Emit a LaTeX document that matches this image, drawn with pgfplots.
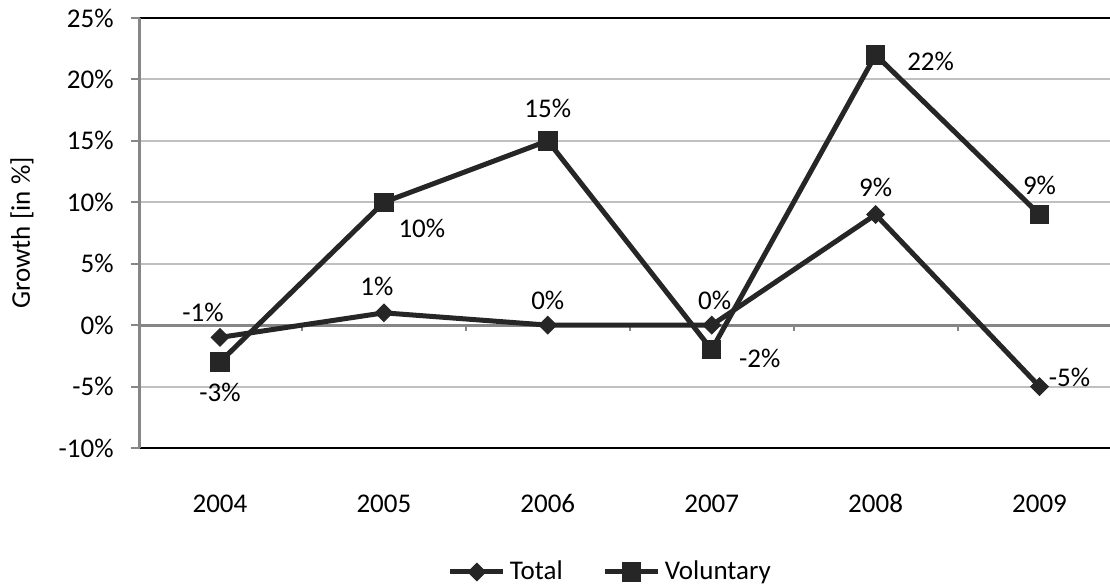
\documentclass[border=0pt]{standalone}
\usepackage{pgfplots}
\pgfplotsset{compat=1.18}
\usepackage{pgfplotstable}
\usepackage{fontspec}
\setmainfont{Carlito}
\definecolor{lineC}{HTML}{262626}
\definecolor{gridC}{HTML}{C0C0C0}
\definecolor{axisC}{HTML}{868686}

% x  y  label offsets (dx, dy in pt)
\pgfplotstableread{
x y dx dy
0 -1 -8.5 12.5
1 1 -3.5 13
2 0 0 12.5
3 0 1.5 12.5
4 9 0 13.5
5 -5 15 4.5
}\totaldata
\pgfplotstableread{
x y dx dy
0 -3 0 -15
1 10 19 -13
2 15 0 16
3 -2 24 -4.5
4 22 27.5 -3.5
5 9 0 14.5
}\voluntarydata

\begin{document}
\fontsize{13.5}{15.5}\selectfont
\begin{tikzpicture}
\begin{axis}[
    name=ax,
    scale only axis,
    width=485pt,
    height=215pt,
    xmin=-0.488, xmax=5.43,
    ymin=-10, ymax=25,
    xtick={0,1,2,3,4,5},
    xticklabels={2004,2005,2006,2007,2008,2009},
    ytick={-10,-5,0,5,10,15,20,25},
    yticklabels={-10\%,-5\%,0\%,5\%,10\%,15\%,20\%,25\%},
    axis x line=box,
    axis y line*=left,
    x axis line style={black, line width=1pt},
    y axis line style={axisC, line width=1.5pt},
    tick align=outside,
    major tick length=4.5pt,
    xtick style={draw=none},
    ytick style={axisC, line width=1pt},
    ymajorgrids,
    grid style={gridC, line width=1pt},
    xticklabel style={text height=1.45ex, text depth=0.2ex, yshift=-13.5pt},
    yticklabel style={xshift=-4pt},
    ylabel={Growth [in \%]},
    ylabel style={at={(axis description cs:0,0.5)}, anchor=center, yshift=59pt},
    clip=false,
    legend columns=2,
    legend style={draw=none, fill=none, at={(axis description cs:0.486,0)}, anchor=center,
        yshift=-62pt, /tikz/every even column/.append style={column sep=18pt}},
    legend image code/.code={\draw[mark repeat=2,mark phase=2]
        plot coordinates {(0pt,0pt) (13.25pt,0pt) (26.5pt,0pt)};},
    every axis plot/.append style={line width=2.5pt, lineC},
    nodes near coords={\pgfmathprintnumber[assume math mode=true]{\pgfplotspointmeta}\%},
    point meta=y,
    visualization depends on={\thisrow{dx} \as \dx},
    visualization depends on={\thisrow{dy} \as \dy},
    every node near coord/.append style={anchor=center, xshift=\dx pt, yshift=\dy pt, text=black, inner sep=0pt},
]
% zero line and its small ticks
\draw[axisC, line width=1.5pt] (axis cs:-0.488,0) -- (axis cs:5.43,0);
\pgfplotsinvokeforeach{0.5,1.5,2.5,3.5,4.5}{
  \draw[axisC, line width=1pt] (axis cs:#1,0) -- ([yshift=-3pt]axis cs:#1,0);
}
\addplot[lineC, line width=2.5pt, mark=square*, mark size=3.1pt,
    mark options={rotate=45, line width=0.5pt, fill=lineC}] table[x=x, y=y] {\totaldata};
\addplot[lineC, line width=2.5pt, mark=square*, mark size=4.6pt,
    mark options={line width=0.5pt, fill=lineC}] table[x=x, y=y] {\voluntarydata};
\legend{Total, Voluntary}
\coordinate (pa) at (rel axis cs:0,0);
\coordinate (pb) at (rel axis cs:1,1);
\end{axis}
\pgfresetboundingbox
\path ([shift={(-70pt,-68pt)}]pa) rectangle ([shift={(0pt,9pt)}]pb);
\end{tikzpicture}
\end{document}
